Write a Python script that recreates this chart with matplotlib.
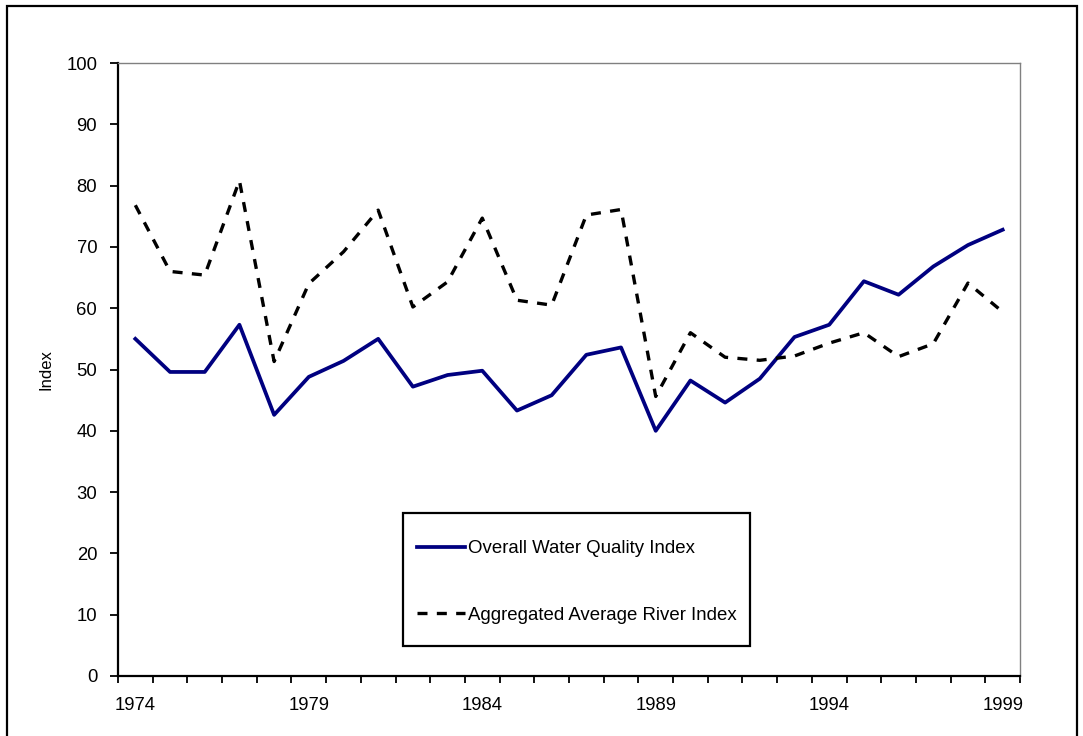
import matplotlib
matplotlib.use('Agg')
import matplotlib.pyplot as plt
from matplotlib.patches import Rectangle

# valores
anos = list(range(1974, 2000))
indice_geral = [55.0, 49.6, 49.6, 57.3, 42.6, 48.8, 51.4, 55.0, 47.2, 49.1,
                49.8, 43.3, 45.8, 52.4, 53.6, 40.0, 48.2, 44.6, 48.5, 55.3,
                57.3, 64.4, 62.2, 66.8, 70.3, 72.8]
indice_rios = [76.8, 66.0, 65.4, 80.8, 51.3, 64.0, 69.2, 76.0, 60.2, 64.3,
               74.7, 61.3, 60.5, 75.2, 76.1, 45.6, 56.0, 52.0, 51.5, 52.2,
               54.3, 56.0, 52.1, 54.2, 64.1, 59.4]
rotulos_x = ['1974', '1979', '1984', '1989', '1994', '1999']
ticks_y = [0, 10, 20, 30, 40, 50, 60, 70, 80, 90, 100]

plt.rcParams['font.family'] = ['Liberation Sans', 'DejaVu Sans']

fig = plt.figure(figsize=(10.83, 7.36), dpi=100)
ax = fig.add_axes([118/1083, 1-676/736, (1020-118)/1083, (676-63)/736])

# moldura externa do grafico (estilo Excel)
fig.patches.append(Rectangle((7/1083, -0.02), (1077-7)/1083, 1.02-6/736,
                             transform=fig.transFigure, fill=False,
                             edgecolor='black', linewidth=1.6))

x = [i + 0.5 for i in range(len(anos))]  # categorias centradas entre os ticks
ax.plot(x, indice_geral, color='#000080', linewidth=2.7, label='Overall Water Quality Index')
ax.plot(x, indice_rios, color='black', linewidth=2.4, dashes=(3.0, 2.8),
        label='Aggregated Average River Index')

ax.set_xlim(0, len(anos))
ax.set_ylim(0, 100)
ax.set_xticks(range(len(anos) + 1))
ax.set_xticklabels([])
ax.set_xticks([anos.index(int(a)) + 0.5 for a in rotulos_x], minor=True)
ax.set_xticklabels(rotulos_x, minor=True)
ax.tick_params(axis='x', which='major', direction='out', length=5, width=1.3, color='black')
ax.tick_params(axis='x', which='minor', length=0, pad=15, labelsize=13.3)
ax.set_yticks(ticks_y)
ax.tick_params(axis='y', direction='out', length=6, width=1.3, labelsize=13.3, pad=9)
ax.set_ylabel('Index', fontsize=12, labelpad=9)

for lado in ['top', 'right']:
    ax.spines[lado].set_color('#808080')
    ax.spines[lado].set_linewidth(1.0)
for lado in ['left', 'bottom']:
    ax.spines[lado].set_color('black')
    ax.spines[lado].set_linewidth(1.6)

# legenda sem moldura + caixa desenhada a parte
leg = ax.legend(loc='center', bbox_to_anchor=(0.509, 0.1533), fontsize=13.4,
                frameon=False, handlelength=2.57, handletextpad=0.15,
                labelspacing=2.66, borderpad=0.3, borderaxespad=0)
ax.add_patch(Rectangle((0.316, 0.0489), 0.7007 - 0.316, 0.2659 - 0.0489,
                       transform=ax.transAxes, fill=False, edgecolor='black',
                       linewidth=1.6, zorder=5))

fig.savefig('out.png', dpi=100)
